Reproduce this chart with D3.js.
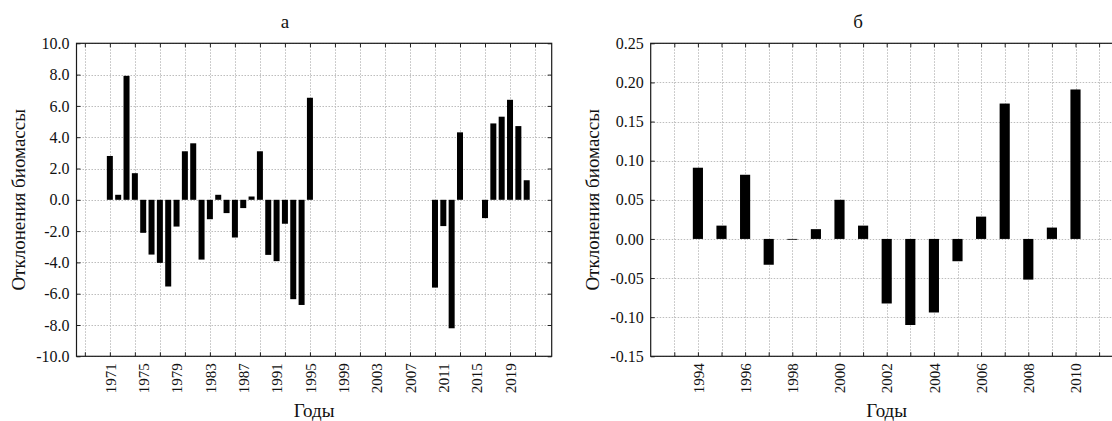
<!DOCTYPE html>
<html>
<head>
<meta charset="utf-8">
<script src="https://cdn.jsdelivr.net/npm/d3@7"></script>
<style>
  body { margin: 0; background: #fff; }
  svg { display: block; }
</style>
</head>
<body>
<svg id="chart" width="1112" height="421"></svg>
<script>
// Panel "а": biomass deviations by year, 1971–2021
const yearsA = [1971, 1972, 1973, 1974, 1975, 1976, 1977, 1978, 1979, 1980,
                1981, 1982, 1983, 1984, 1985, 1986, 1987, 1988, 1989, 1990,
                1991, 1992, 1993, 1994, 1995,
                2010, 2011, 2012, 2013, 2016, 2017, 2018, 2019, 2020, 2021];
const valuesA = [2.8, 0.32, 7.92, 1.7, -2.11, -3.5, -4.03, -5.54, -1.71, 3.1,
                 3.61, -3.82, -1.24, 0.32, -0.85, -2.41, -0.53, 0.21, 3.1, -3.52,
                 -3.92, -1.53, -6.35, -6.72, 6.52,
                 -5.61, -1.68, -8.21, 4.31, -1.17, 4.88, 5.31, 6.39, 4.71, 1.25];
const tickYearsA = [1968, 1971, 1974, 1977, 1980, 1983, 1986, 1989, 1992, 1995,
                    1998, 2001, 2004, 2007, 2010, 2013, 2016, 2019, 2022];
const labelYearsA = [1971, 1975, 1979, 1983, 1987, 1991, 1995, 1999, 2003,
                     2007, 2011, 2015, 2019];
const yTicksA = [-10, -8, -6, -4, -2, 0, 2, 4, 6, 8, 10];

// Panel "б": biomass deviations by year, 1994–2010
const yearsB = [1994, 1995, 1996, 1997, 1998, 1999, 2000, 2001, 2002,
                2003, 2004, 2005, 2006, 2007, 2008, 2009, 2010];
const valuesB = [0.091, 0.017, 0.082, -0.033, -0.001, 0.0125, 0.05, 0.017, -0.0825,
                 -0.11, -0.094, -0.0285, 0.0285, 0.173, -0.052, 0.0145, 0.191];
const tickYearsB = [1993, 1994, 1995, 1996, 1997, 1998, 1999, 2000, 2001, 2002,
                    2003, 2004, 2005, 2006, 2007, 2008, 2009, 2010, 2011];
const labelYearsB = [1994, 1996, 1998, 2000, 2002, 2004, 2006, 2008, 2010];
const yTicksB = [-0.15, -0.10, -0.05, 0, 0.05, 0.10, 0.15, 0.20, 0.25];

const FONT = '"Liberation Serif", "Times New Roman", serif';
const locale = d3.formatLocale({ decimal: ".", thousands: ",", grouping: [3],
                                 currency: ["", ""], minus: "-" });

const svg = d3.select("#chart");

function drawPanel(p) {
  const x = d3.scaleLinear().domain(p.xDomain).range([p.left, p.right]);
  const y = d3.scaleLinear().domain(p.yDomain).range([p.bottom, p.top]);
  const h = p.bottom - p.top;
  const g = svg.append("g");

  // dotted grid
  const grid = g.append("g").attr("stroke", "#bdbdbd").attr("stroke-width", 1)
    .attr("stroke-dasharray", "1.5,1.5");
  grid.selectAll("line.v").data(p.tickYears).join("line").attr("class", "v")
    .attr("x1", d => Math.round(x(d)) + 0.5).attr("x2", d => Math.round(x(d)) + 0.5)
    .attr("y1", p.top).attr("y2", p.bottom);
  grid.selectAll("line.h").data(p.yTicks).join("line").attr("class", "h")
    .attr("x1", p.left).attr("x2", p.right)
    .attr("y1", d => Math.round(y(d)) + 0.5).attr("y2", d => Math.round(y(d)) + 0.5);

  // bars
  const bw = (x(1) - x(0)) * p.barFrac;
  g.append("g").selectAll("rect").data(p.years.map((yr, i) => [yr, p.values[i]]))
    .join("rect")
    .attr("x", d => x(d[0]) - bw / 2)
    .attr("width", bw)
    .attr("y", d => y(Math.max(0, d[1])))
    .attr("height", d => Math.max(0.8, Math.abs(y(d[1]) - y(0))))
    .attr("fill", "#000");

  // inward tick marks on all four sides
  const tickStyle = sel => {
    sel.select(".domain").remove();
    sel.selectAll("line").attr("stroke", "#222");
  };
  g.append("g").attr("transform", `translate(0,${p.bottom})`)
    .call(d3.axisBottom(x).tickValues(p.tickYears).tickSize(-4).tickFormat(""))
    .call(tickStyle);
  g.append("g").attr("transform", `translate(0,${p.top})`)
    .call(d3.axisTop(x).tickValues(p.tickYears).tickSize(-4).tickFormat(""))
    .call(tickStyle);
  g.append("g").attr("transform", `translate(${p.right},0)`)
    .call(d3.axisRight(y).tickValues(p.yTicks).tickSize(-4).tickFormat(""))
    .call(tickStyle);

  // y axis with labels
  const ya = g.append("g").attr("transform", `translate(${p.left},0)`)
    .call(d3.axisLeft(y).tickValues(p.yTicks).tickSize(-4).tickPadding(7)
      .tickFormat(locale.format(p.fmt)))
    .call(tickStyle);
  ya.selectAll("text").attr("font-family", FONT).attr("font-size", 16).attr("fill", "#111");

  // year labels, rotated
  const xa = g.append("g").attr("transform", `translate(0,${p.bottom})`)
    .call(d3.axisBottom(x).tickValues(p.labelYears).tickSize(0).tickFormat(d3.format("d")));
  xa.select(".domain").remove();
  xa.selectAll("text")
    .attr("font-family", FONT).attr("font-size", 15).attr("fill", "#111")
    .attr("transform", "rotate(-90)")
    .attr("x", -7).attr("y", 0).attr("dy", "0.35em")
    .style("text-anchor", "end");

  // frame
  g.append("rect").attr("x", p.left).attr("y", p.top)
    .attr("width", p.right - p.left).attr("height", h)
    .attr("fill", "none").attr("stroke", "#1a1a1a").attr("stroke-width", 1.2);

  // titles
  const t = (txt, tx, ty, rot) => g.append("text").text(txt)
    .attr("font-family", FONT).attr("font-size", 19).attr("fill", "#111")
    .attr("text-anchor", "middle")
    .attr("transform", `translate(${tx},${ty})` + (rot ? " rotate(-90)" : ""));
  t(p.title, p.titleX, 28);
  t("Годы", (p.left + p.right) / 2, 417);
  t("Отклонения биомассы", p.yTitleX, (p.top + p.bottom) / 2, true);
}

drawPanel({
  title: "а", titleX: 285, yTitleX: 25,
  left: 76.5, right: 551.7, top: 43.3, bottom: 356.3,
  xDomain: [1967, 2024], yDomain: [-10, 10],
  years: yearsA, values: valuesA, tickYears: tickYearsA, labelYears: labelYearsA,
  yTicks: yTicksA, fmt: ".1f", barFrac: 0.72
});

drawPanel({
  title: "б", titleX: 858, yTitleX: 599,
  left: 650.7, right: 1122.7, top: 43.3, bottom: 356.3,
  xDomain: [1992, 2012], yDomain: [-0.15, 0.25],
  years: yearsB, values: valuesB, tickYears: tickYearsB, labelYears: labelYearsB,
  yTicks: yTicksB, fmt: ".2f", barFrac: 0.43
});
</script>
</body>
</html>
